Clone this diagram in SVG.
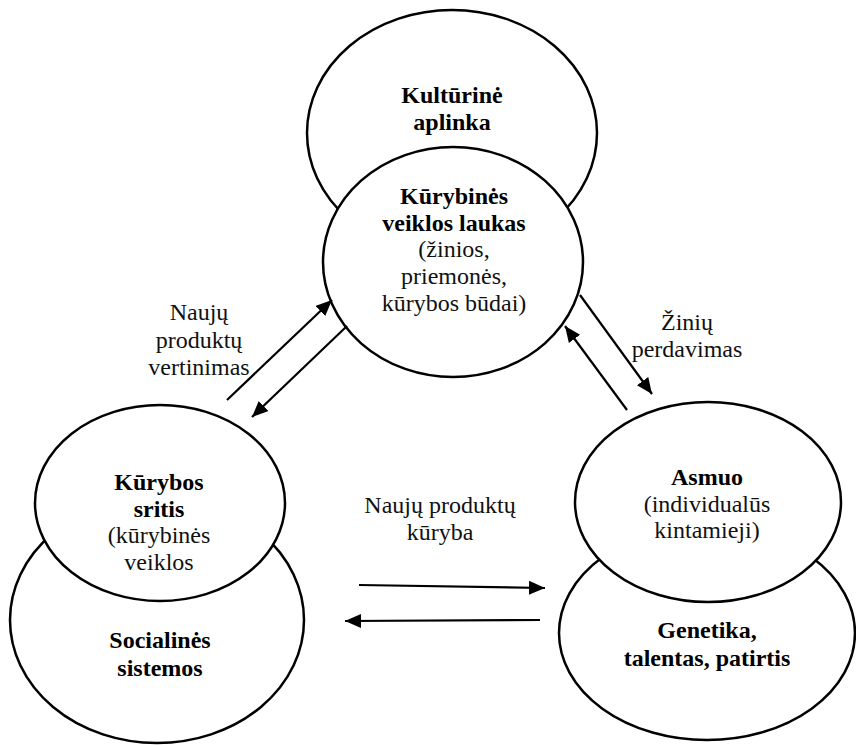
<svg xmlns="http://www.w3.org/2000/svg" width="856" height="745" viewBox="0 0 856 745">
<style>
.e{fill:#fff;stroke:#000;stroke-width:2.5}
.b{font-size:24px;font-weight:bold;text-anchor:middle;fill:#000}
.r{font-size:24px;text-anchor:middle;fill:#111}
.c{stroke:#000;stroke-width:2.2;fill:none;marker-end:url(#ah)}
</style>
<defs>
<marker id="ah" markerUnits="userSpaceOnUse" markerWidth="20" markerHeight="16" refX="16" refY="7" orient="auto">
<path d="M0,0 L16,7 L0,14 Z" fill="#000"/>
</marker>
</defs>
<rect width="856" height="745" fill="#fff"/>
<g font-family="Liberation Serif, Times New Roman, Tinos, DejaVu Serif, serif">
<g id="kulturine-aplinka">
<ellipse class="e" cx="452" cy="133" rx="145" ry="123"/>
<text class="b" x="452" y="103">Kultūrinė</text>
<text class="b" x="452" y="130">aplinka</text>
</g>
<g id="kurybines-veiklos-laukas">
<ellipse class="e" cx="453" cy="262" rx="130" ry="115"/>
<text class="b" x="454" y="204">Kūrybinės</text>
<text class="b" x="454" y="231">veiklos laukas</text>
<text class="r" x="454" y="257">(žinios,</text>
<text class="r" x="454" y="284">priemonės,</text>
<text class="r" x="454" y="311">kūrybos būdai)</text>
</g>
<g id="socialines-sistemos">
<ellipse class="e" cx="157" cy="620" rx="147" ry="123"/>
<text class="b" x="160" y="648">Socialinės</text>
<text class="b" x="160" y="676">sistemos</text>
</g>
<g id="kurybos-sritis">
<ellipse class="e" cx="160" cy="503" rx="125" ry="98"/>
<text class="b" x="159" y="490">Kūrybos</text>
<text class="b" x="159" y="517">sritis</text>
<text class="r" x="159" y="543">(kūrybinės</text>
<text class="r" x="159" y="570">veiklos</text>
</g>
<g id="genetika">
<ellipse class="e" cx="707" cy="633" rx="148" ry="107"/>
<text class="b" x="707" y="638">Genetika,</text>
<text class="b" x="707" y="666">talentas, patirtis</text>
</g>
<g id="asmuo">
<ellipse class="e" cx="708" cy="502" rx="133" ry="100"/>
<text class="b" x="707" y="485">Asmuo</text>
<text class="r" x="707" y="512">(individualūs</text>
<text class="r" x="707" y="538">kintamieji)</text>
</g>
<g id="connectors">
<line class="c" x1="227" y1="400" x2="332" y2="300"/>
<line class="c" x1="347" y1="326" x2="252" y2="417"/>
<line class="c" x1="580" y1="295" x2="652" y2="394"/>
<line class="c" x1="627" y1="410" x2="565" y2="326"/>
<line class="c" x1="359" y1="585" x2="545" y2="588"/>
<line class="c" x1="540" y1="620" x2="345" y2="621"/>
</g>
<g id="labels">
<text class="r" x="199" y="320">Naujų</text>
<text class="r" x="199" y="348">produktų</text>
<text class="r" x="199" y="375">vertinimas</text>
<text class="r" x="687" y="330">Žinių</text>
<text class="r" x="687" y="357">perdavimas</text>
<text class="r" x="440" y="513">Naujų produktų</text>
<text class="r" x="440" y="540">kūryba</text>
</g>
</g>
</svg>
